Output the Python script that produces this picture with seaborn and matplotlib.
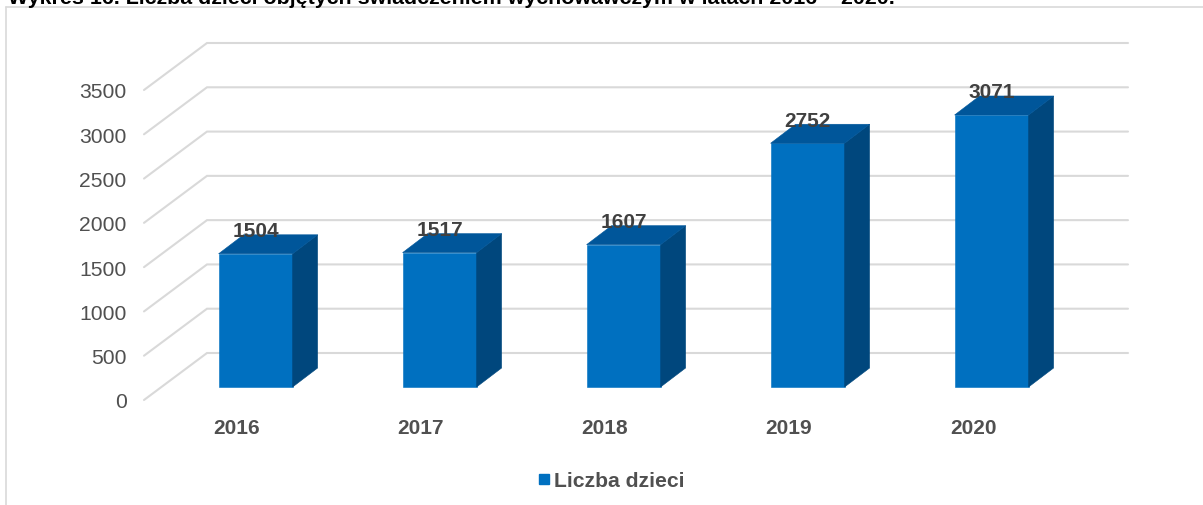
import matplotlib
matplotlib.use("Agg")
import matplotlib.pyplot as plt
import seaborn as sns
import pandas as pd
from matplotlib.lines import Line2D

years = ["2016", "2017", "2018", "2019", "2020"]
children = [1504, 1517, 1607, 2752, 3071]
y_ticks = [0, 500, 1000, 1500, 2000, 2500, 3000, 3500]
series_name = "Liczba dzieci"
title = "Wykres 16. Liczba dzieci objętych świadczeniem wychowawczym w latach 2016 – 2020."

W, H = 1203, 506
PX_PER_UNIT = 310 / 3500
STEP = 184
FRONT = "#0070C0"
TOP = "#00569A"
SIDE = "#00477D"
GRID = "#D9D9D9"
TXT = "#505050"
LBL = "#404040"

sns.set_theme(style="white")
plt.rcParams["font.family"] = ["Liberation Sans", "DejaVu Sans"]

fig = plt.figure(figsize=(W / 100, H / 100), dpi=100)
fig.patch.set_facecolor("white")

# Scale axes: wall/floor gridlines and tick labels
L, R, Y0, Y1 = 144, 1128, 401, 91
ax0 = fig.add_axes([L / W, 1 - Y0 / H, (R - L) / W, (Y0 - Y1) / H])
ax0.set_ylim(0, 3500)
ax0.set_xlim((L - 237) / STEP, (R - 237) / STEP)
for s in ax0.spines.values():
    s.set_visible(False)
ax0.set_yticks(y_ticks)
ax0.set_yticklabels([str(t) for t in y_ticks], fontsize=15.2, color=TXT)
ax0.set_xticks(range(len(years)))
ax0.set_xticklabels(years, fontsize=15, color=TXT, fontweight="bold")
ax0.tick_params(axis="y", length=0, pad=17.5 * 0.72)
ax0.tick_params(axis="x", length=0, pad=12.7)
xa, xb = ax0.get_xlim()
dx_wall, dy_wall = 63 / STEP, 47 / PX_PER_UNIT
for v in y_ticks:
    ax0.plot([xa, xa + dx_wall, xb], [v, v + dy_wall, v + dy_wall],
             color=GRID, lw=1.5, clip_on=False, solid_joinstyle="miter")

# Bar axes: full-figure overlay, value 0 at the bars' front base
ax1 = fig.add_axes([0, 0, 1, 1])
df = pd.DataFrame({"year": years, "children": children})
sns.barplot(data=df, x="year", y="children", color=FRONT, saturation=1,
            width=74 / STEP, ax=ax1, label=series_name,
            edgecolor=FRONT, linewidth=0.4)
ax1.set_xlim((0 - 255.6) / STEP, (W - 255.6) / STEP)
ax1.set_ylim((388 - H) / PX_PER_UNIT, 388 / PX_PER_UNIT)
ax1.patch.set_alpha(0)
ax1.axis("off")

dx, dy = 25 / STEP, 19 / PX_PER_UNIT
hw = 37 / STEP
for i, v in enumerate(children):
    ax1.fill([i + hw, i + hw + dx, i + hw + dx, i + hw], [0, dy, v + dy, v],
             color=SIDE, lw=0.4, zorder=3)
    ax1.fill([i - hw, i - hw + dx, i + hw + dx, i + hw], [v, v + dy, v + dy, v],
             color=TOP, lw=0.4, zorder=3)
    ax1.annotate(str(v), (i, v), xytext=(0, 23 * 0.72), textcoords="offset points",
                 ha="center", va="center", fontsize=15, fontweight="bold",
                 color=LBL, zorder=5)

handles = [Line2D([], [], marker="s", linestyle="none", markersize=7.5,
                  markerfacecolor=FRONT, markeredgecolor=FRONT)]
leg = ax1.legend(handles, [series_name], loc="center", frameon=False,
                 bbox_to_anchor=(603.5 / W, 1 - 481.5 / H), handletextpad=-0.55,
                 prop={"size": 15.2, "weight": "bold"}, labelcolor=TXT)

# Chart frame, cut off by the picture on the right and the bottom
fig.add_artist(Line2D([6 / W, 1, ], [1 - 8 / H, 1 - 8 / H], color=GRID, lw=1.2))
fig.add_artist(Line2D([6 / W, 6 / W], [0, 1 - 8 / H], color=GRID, lw=1.2))

# Caption cut off by the top edge
fig.text(8 / W, 1 - 4 / H, title, fontsize=15.4, fontweight="bold",
         color="black", ha="left", va="baseline")

fig.savefig("out.png", dpi=100)
